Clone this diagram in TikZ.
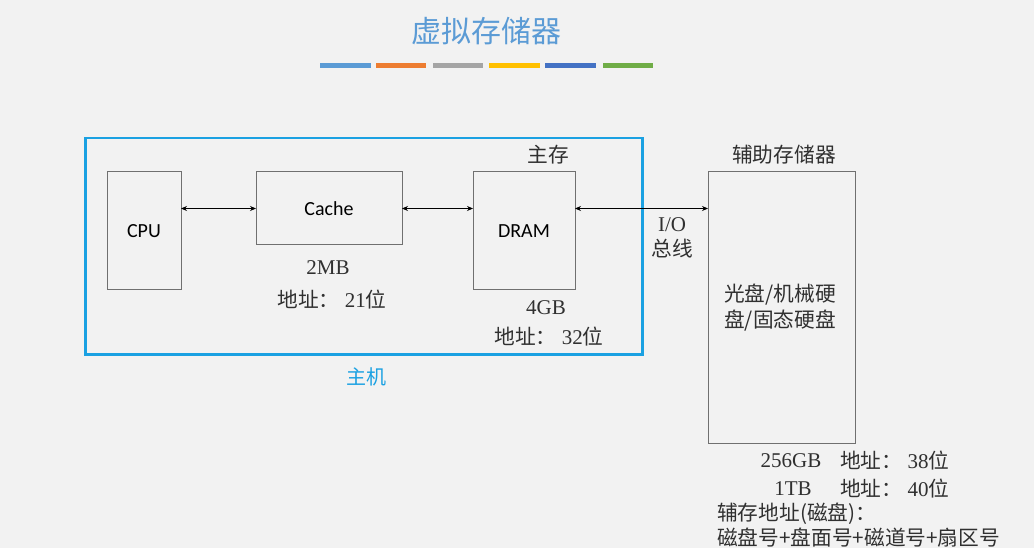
\documentclass[tikz,border=0pt]{standalone}
\usepackage{fontspec}
\setmainfont{Liberation Serif}
\newfontfamily\cjk{Noto Sans CJK SC}
\newfontfamily\carlitofont{Carlito}
\usetikzlibrary{arrows.meta}
\definecolor{bg}{HTML}{F2F2F2}
\definecolor{titleblue}{HTML}{5B9BD5}
\definecolor{hostblue}{HTML}{1BA1E2}
\definecolor{cA}{HTML}{5B9BD5}
\definecolor{cB}{HTML}{ED7D31}
\definecolor{cC}{HTML}{A5A5A5}
\definecolor{cD}{HTML}{FFC000}
\definecolor{cE}{HTML}{4472C4}
\definecolor{cF}{HTML}{70AD47}
\definecolor{boxline}{HTML}{707070}
\definecolor{txt}{HTML}{303030}
\newcommand{\zh}[1]{{\cjk\fontsize{20.7}{22}\selectfont #1}}
\tikzset{
  unit/.style={draw=boxline, line width=1pt, inner sep=0pt, outer sep=0pt, anchor=north west, font=\carlitofont\fontsize{20}{22}\selectfont, text=black},
  lbl/.style={inner sep=0pt, text=txt, font=\fontsize{21}{22}\selectfont},
  link/.style={draw=black, line width=0.8pt, {Stealth[length=6pt,width=5pt]}-{Stealth[length=6pt,width=5pt]}},
  bar/.style={line width=5pt}
}
\begin{document}
\begin{tikzpicture}[x=1pt,y=-1pt]
\fill[bg] (0,0) rectangle (1034,548);
\useasboundingbox (0,0) rectangle (1034,548);
% title
\node[inner sep=0pt, text=titleblue, font=\cjk\fontsize{30}{32}\selectfont] (title) at (486,31) {虚拟存储器};
\draw[bar, cA] (320,65.5) -- (371,65.5);
\draw[bar, cB] (376,65.5) -- (426,65.5);
\draw[bar, cC] (433,65.5) -- (483,65.5);
\draw[bar, cD] (489,65.5) -- (540,65.5);
\draw[bar, cE] (545,65.5) -- (596,65.5);
\draw[bar, cF] (603,65.5) -- (653,65.5);
% host box
\node[draw=hostblue, line width=2.5pt, minimum width=557pt, minimum height=216pt, anchor=north west, inner sep=0pt] (host) at (84,137) {};
\node[lbl, text=hostblue, font=\cjk\fontsize{20}{22}\selectfont] (hostlbl) at (366,377) {主机};
% units
\node[unit, minimum width=74pt, minimum height=118pt] (cpu) at (107,172) {CPU};
\node[unit, minimum width=146pt, minimum height=73pt] (cache) at (256,172) {Cache};
\node[unit, minimum width=102pt, minimum height=118pt] (dram) at (473,172) {DRAM};
\node[unit, minimum width=147pt, minimum height=271pt] (aux) at (708,172) {};
% connectors
\draw[link] (cpu.east |- cache.east) -- (cache.west);
\draw[link] (cache.east) -- (dram.west |- cache.east);
\draw[link] (dram.east |- cache.east) -- (aux.west |- cache.east);
% labels
\node[lbl] (mainlbl) at (548,155) {\zh{主存}};
\node[lbl] (auxlbl) at (784,155) {\zh{辅助存储器}};
\node[lbl] (io) at (672,225) {I/O};
\node[lbl] (bus) at (672,249) {\zh{总线}};
\node[lbl] (disk1) at (780,295) {\zh{光盘/机械硬}};
\node[lbl] (disk2) at (780,321) {\zh{盘/固态硬盘}};
\node[lbl] (c1) at (328,268) {2MB};
\node[lbl] (c2) at (332,300) {\zh{地址：} 21\zh{位}};
\node[lbl] (d1) at (546,308) {4GB};
\node[lbl] (d2) at (549,337) {\zh{地址：} 32\zh{位}};
\node[lbl] (s1) at (791,461) {256GB};
\node[lbl, anchor=west] (s2) at (840,461) {\zh{地址：} 38\zh{位}};
\node[lbl] (t1) at (793,489) {1TB};
\node[lbl, anchor=west] (t2) at (840,489) {\zh{地址：} 40\zh{位}};
\node[lbl, anchor=west] (a1) at (717,514) {\zh{辅存地址(磁盘)：}};
\node[lbl, anchor=west] (a2) at (717,538) {\zh{磁盘号+盘面号+磁道号+扇区号}};
\end{tikzpicture}
\end{document}
